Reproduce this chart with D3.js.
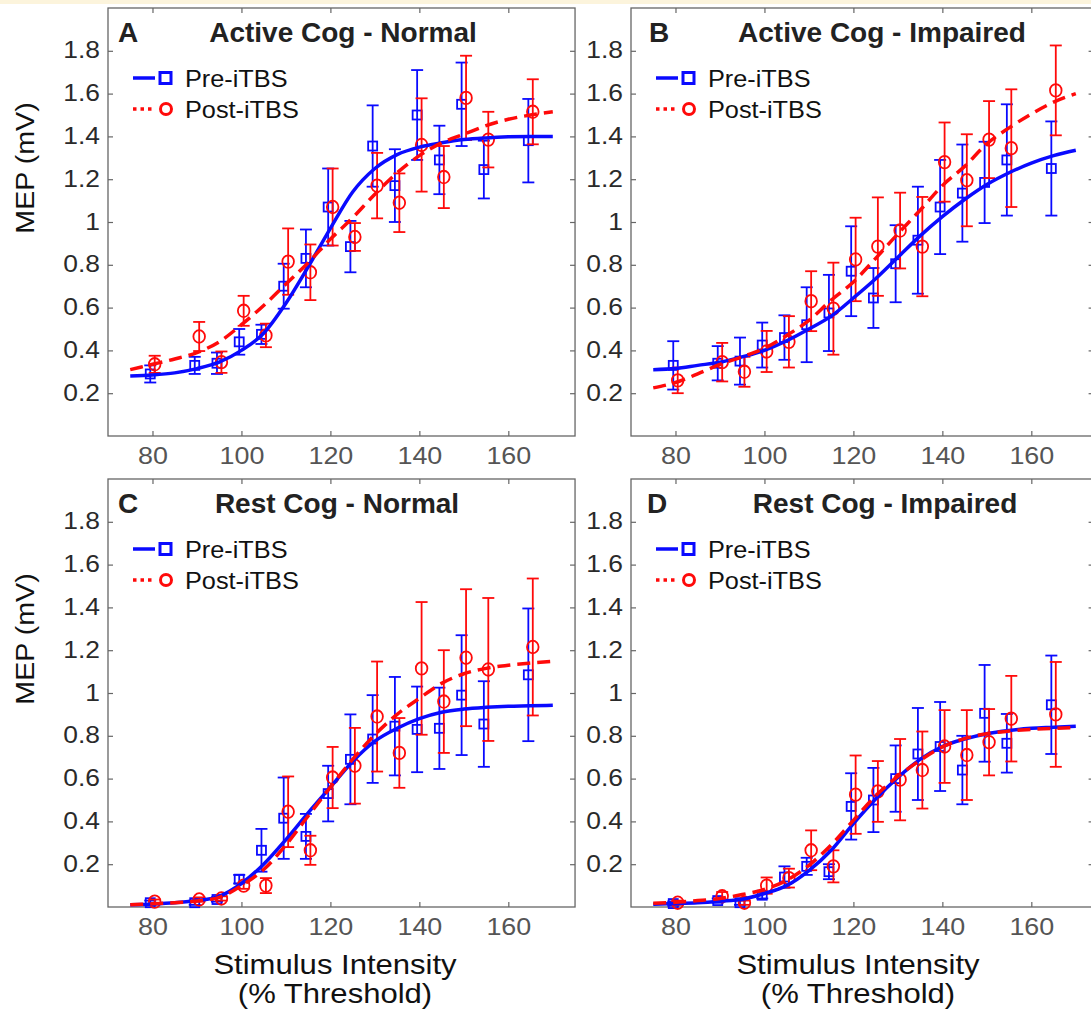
<!DOCTYPE html>
<html>
<head>
<meta charset="utf-8">
<script src="https://cdn.jsdelivr.net/npm/d3@7"></script>
<style>
  body { margin: 0; background: #fff; }
  svg { display: block; }
</style>
</head>
<body>
<div id="plot"></div>
<script>
// stimulus intensities (% threshold) where MEPs were measured
const stimX = [80, 90, 95, 100, 105, 110, 115, 120, 125, 130, 135, 140, 145, 150, 155, 165];
const fitX = [75, 80, 85, 90, 95, 100, 105, 110, 115, 120, 125, 130, 135, 140, 145, 150, 155, 160, 165, 170];

const xTicks = [80, 100, 120, 140, 160];
const yTicks = [0.2, 0.4, 0.6, 0.8, 1.0, 1.2, 1.4, 1.6, 1.8];
const yTickLabels = ["0.2", "0.4", "0.6", "0.8", "1", "1.2", "1.4", "1.6", "1.8"];

const seriesNames = ["Pre-iTBS", "Post-iTBS"];
const panelLetters = ["A", "B", "C", "D"];
const panelTitles = ["Active Cog - Normal", "Active Cog - Impaired", "Rest Cog - Normal", "Rest Cog - Impaired"];

// A - Active Cog, Normal
const preA = [0.29, 0.33, 0.34, 0.44, 0.475, 0.70, 0.83, 1.07, 0.885, 1.355, 1.17, 1.50, 1.29, 1.55, 1.245, 1.38];
const preAErr = [0.04, 0.04, 0.05, 0.06, 0.045, 0.105, 0.135, 0.18, 0.12, 0.19, 0.17, 0.21, 0.16, 0.195, 0.135, 0.195];
const postA = [0.335, 0.465, 0.345, 0.585, 0.47, 0.815, 0.765, 1.07, 0.93, 1.17, 1.09, 1.36, 1.21, 1.58, 1.385, 1.515];
const postAErr = [0.04, 0.068, 0.05, 0.07, 0.055, 0.155, 0.13, 0.18, 0.065, 0.153, 0.137, 0.218, 0.145, 0.197, 0.13, 0.152];
const preAFit = [0.28, 0.285, 0.295, 0.315, 0.345, 0.40, 0.48, 0.62, 0.79, 0.97, 1.14, 1.25, 1.315, 1.35, 1.37, 1.385, 1.393, 1.398, 1.40, 1.40];
const postAFit = [0.31, 0.335, 0.36, 0.39, 0.44, 0.52, 0.61, 0.71, 0.81, 0.92, 1.02, 1.13, 1.23, 1.31, 1.37, 1.41, 1.45, 1.48, 1.50, 1.515];

// B - Active Cog, Impaired
const preB = [0.33, 0.34, 0.35, 0.425, 0.46, 0.52, 0.575, 0.77, 0.645, 0.805, 0.915, 1.07, 1.135, 1.185, 1.29, 1.25];
const preBErr = [0.113, 0.08, 0.11, 0.105, 0.104, 0.175, 0.178, 0.21, 0.14, 0.18, 0.25, 0.22, 0.227, 0.19, 0.26, 0.22];
const postB = [0.26, 0.345, 0.30, 0.395, 0.44, 0.63, 0.595, 0.825, 0.885, 0.96, 0.885, 1.28, 1.195, 1.385, 1.345, 1.615];
const postBErr = [0.06, 0.09, 0.07, 0.096, 0.12, 0.14, 0.215, 0.195, 0.23, 0.177, 0.232, 0.185, 0.215, 0.18, 0.275, 0.21];
const preBFit = [0.31, 0.315, 0.33, 0.345, 0.37, 0.40, 0.445, 0.50, 0.56, 0.645, 0.735, 0.835, 0.935, 1.025, 1.105, 1.175, 1.23, 1.275, 1.31, 1.335];
const postBFit = [0.225, 0.25, 0.29, 0.335, 0.37, 0.41, 0.47, 0.54, 0.635, 0.72, 0.83, 0.945, 1.055, 1.17, 1.26, 1.365, 1.44, 1.505, 1.56, 1.60];

// C - Rest Cog, Normal
const preC = [0.02, 0.02, 0.035, 0.13, 0.265, 0.415, 0.33, 0.53, 0.69, 0.785, 0.845, 0.83, 0.835, 0.99, 0.855, 1.085];
const preCErr = [0.01, 0.01, 0.01, 0.02, 0.1, 0.19, 0.105, 0.13, 0.21, 0.205, 0.23, 0.2, 0.19, 0.28, 0.2, 0.31];
const postC = [0.025, 0.035, 0.04, 0.10, 0.10, 0.445, 0.265, 0.605, 0.66, 0.89, 0.72, 1.115, 0.96, 1.165, 1.11, 1.215];
const postCErr = [0.01, 0.01, 0.01, 0.015, 0.035, 0.165, 0.068, 0.143, 0.177, 0.257, 0.163, 0.31, 0.24, 0.32, 0.334, 0.32];
const preCFit = [0.01, 0.014, 0.02, 0.03, 0.05, 0.11, 0.20, 0.315, 0.44, 0.56, 0.68, 0.775, 0.835, 0.88, 0.91, 0.925, 0.933, 0.938, 0.94, 0.943];
const postCFit = [0.01, 0.015, 0.02, 0.028, 0.045, 0.10, 0.175, 0.29, 0.425, 0.56, 0.69, 0.805, 0.90, 0.975, 1.045, 1.09, 1.115, 1.13, 1.14, 1.148];

// D - Rest Cog, Impaired
const preD = [0.016, 0.03, 0.02, 0.055, 0.14, 0.19, 0.165, 0.47, 0.50, 0.60, 0.715, 0.75, 0.64, 0.905, 0.765, 0.945];
const preDErr = [0.01, 0.01, 0.01, 0.015, 0.05, 0.04, 0.035, 0.155, 0.15, 0.155, 0.215, 0.208, 0.16, 0.226, 0.137, 0.23];
const postD = [0.02, 0.05, 0.02, 0.10, 0.135, 0.265, 0.19, 0.525, 0.54, 0.595, 0.64, 0.75, 0.71, 0.77, 0.88, 0.90];
const postDErr = [0.01, 0.02, 0.01, 0.038, 0.044, 0.093, 0.075, 0.183, 0.142, 0.19, 0.18, 0.17, 0.21, 0.155, 0.2, 0.245];
const preDFit = [0.013, 0.016, 0.02, 0.027, 0.036, 0.063, 0.10, 0.17, 0.265, 0.39, 0.505, 0.605, 0.69, 0.75, 0.785, 0.81, 0.825, 0.835, 0.84, 0.845];
const postDFit = [0.017, 0.022, 0.03, 0.04, 0.058, 0.082, 0.125, 0.195, 0.29, 0.405, 0.52, 0.61, 0.685, 0.748, 0.787, 0.81, 0.822, 0.83, 0.835, 0.838];

const blue = "#0a0aff";
const red = "#ff0a0a";
const font = "'Liberation Sans', Arial, sans-serif";

const W = 1091, H = 1013;
const pxPerUnit = 4.448;
const plotH = 428;

const panels = [
  { left: 108, top: 8, xMax: 175, titleX: 235, letterX: 10, yLabel: true, xLabel: false,
    pre: preA, preErr: preAErr, post: postA, postErr: postAErr, preFit: preAFit, postFit: postAFit },
  { left: 631, top: 8, xMax: 174, titleX: 251, letterX: 18, yLabel: false, xLabel: false,
    pre: preB, preErr: preBErr, post: postB, postErr: postBErr, preFit: preBFit, postFit: postBFit },
  { left: 108, top: 479, xMax: 175, titleX: 229, letterX: 10, yLabel: true, xLabel: true,
    pre: preC, preErr: preCErr, post: postC, postErr: postCErr, preFit: preCFit, postFit: postCFit },
  { left: 631, top: 479, xMax: 174, titleX: 254, letterX: 16, yLabel: false, xLabel: true,
    pre: preD, preErr: preDErr, post: postD, postErr: postDErr, preFit: preDFit, postFit: postDFit }
];

const svg = d3.select("#plot")
  .append("svg")
  .attr("width", W)
  .attr("height", H);

svg.append("rect").attr("width", W).attr("height", H).attr("fill", "#fff");
// thin pale strip along the top of the page
svg.append("rect").attr("width", W).attr("height", 4).attr("fill", "#fcf4dc");

// text that is a little wider than Arial, like the original figure
function addText(g, x, y, str, o) {
  const rot = o.rotate ? ` rotate(${o.rotate})` : "";
  return g.append("text")
    .attr("transform", `translate(${x},${y})${rot} scale(${o.sx || 1},1)`)
    .attr("text-anchor", o.anchor || "start")
    .attr("font-family", font)
    .attr("font-size", o.size)
    .attr("font-weight", o.weight || "normal")
    .attr("fill", o.fill || "#111")
    .text(str);
}

panels.forEach((p, i) => {
  const w = (p.xMax - 70) * pxPerUnit;
  const x = d3.scaleLinear().domain([70, p.xMax]).range([0, w]);
  const y = d3.scaleLinear().domain([0, 2]).range([plotH, 0]);

  const g = svg.append("g").attr("transform", `translate(${p.left},${p.top})`);

  g.append("rect")
    .attr("width", w).attr("height", plotH)
    .attr("fill", "#fff")
    .attr("stroke", "#666").attr("stroke-width", 1.3);

  const styleAxis = (ax) => {
    ax.select(".domain").remove();
    ax.selectAll(".tick line").attr("stroke", "#666").attr("stroke-width", 1.2);
  };

  const gx = g.append("g")
    .attr("transform", `translate(0,${plotH})`)
    .call(d3.axisBottom(x).tickValues(xTicks).tickSizeInner(-5).tickSizeOuter(0).tickPadding(0));
  styleAxis(gx);
  gx.selectAll(".tick text")
    .attr("y", 0).attr("dy", null)
    .attr("transform", "translate(0,28) scale(1.12,1)")
    .attr("font-family", font).attr("font-size", 24).attr("fill", "#555");

  const gt = g.append("g")
    .call(d3.axisTop(x).tickValues(xTicks).tickSizeInner(-5).tickSizeOuter(0).tickFormat(""));
  styleAxis(gt);

  const gy = g.append("g")
    .call(d3.axisLeft(y).tickValues(yTicks).tickSizeInner(-5).tickSizeOuter(0).tickPadding(0)
      .tickFormat((d, k) => yTickLabels[k]));
  styleAxis(gy);
  gy.selectAll(".tick text")
    .attr("x", 0).attr("dy", null)
    .attr("transform", "translate(-8,7) scale(1.1,1)")
    .attr("font-family", font).attr("font-size", 24).attr("fill", "#2a2a2a");

  const gr = g.append("g")
    .attr("transform", `translate(${w},0)`)
    .call(d3.axisRight(y).tickValues(yTicks).tickSizeInner(-5).tickSizeOuter(0).tickFormat(""));
  styleAxis(gr);

  // panel letter and title
  addText(g, p.letterX, 34, panelLetters[i], { size: 28, weight: "bold", fill: "#222" });
  addText(g, p.titleX, 34, panelTitles[i], { size: 28, weight: "bold", anchor: "middle", fill: "#222" });

  const line = d3.line()
    .x(d => x(d[0]))
    .y(d => y(d[1]))
    .curve(d3.curveMonotoneX);

  const series = [
    { name: seriesNames[0], color: blue, mean: p.pre, err: p.preErr, fit: p.preFit, dodge: -0.5, shape: "square" },
    { name: seriesNames[1], color: red, mean: p.post, err: p.postErr, fit: p.postFit, dodge: 0.5, shape: "circle" }
  ];

  // error bars and markers
  series.forEach(s => {
    const pts = stimX.map((sx, k) => ({ x: sx + s.dodge, m: s.mean[k], e: s.err[k] }));
    const eb = g.append("g")
      .attr("stroke", s.color).attr("stroke-width", 1.8).attr("fill", "none");
    pts.forEach(d => {
      const cx = x(d.x);
      eb.append("line").attr("x1", cx).attr("x2", cx).attr("y1", y(d.m - d.e)).attr("y2", y(d.m + d.e));
      eb.append("line").attr("x1", cx - 6).attr("x2", cx + 6).attr("y1", y(d.m + d.e)).attr("y2", y(d.m + d.e));
      eb.append("line").attr("x1", cx - 6).attr("x2", cx + 6).attr("y1", y(d.m - d.e)).attr("y2", y(d.m - d.e));
      if (s.shape === "square") {
        eb.append("rect").attr("x", cx - 4.5).attr("y", y(d.m) - 4.5).attr("width", 9).attr("height", 9);
      } else {
        eb.append("ellipse").attr("cx", cx).attr("cy", y(d.m)).attr("rx", 5.8).attr("ry", 6.3);
      }
    });
  });

  // fitted curves
  g.append("path")
    .datum(fitX.map((fx, k) => [fx, p.preFit[k]]))
    .attr("fill", "none").attr("stroke", blue).attr("stroke-width", 3.5)
    .attr("d", line);
  g.append("path")
    .datum(fitX.map((fx, k) => [fx, p.postFit[k]]))
    .attr("fill", "none").attr("stroke", red).attr("stroke-width", 3.5)
    .attr("stroke-dasharray", "13,7")
    .attr("d", line);

  // legend
  const lg = g.append("g");
  const rows = [70, 101];
  lg.append("line").attr("x1", 25).attr("x2", 47).attr("y1", rows[0]).attr("y2", rows[0])
    .attr("stroke", blue).attr("stroke-width", 3.5);
  lg.append("rect").attr("x", 52).attr("y", rows[0] - 5.5).attr("width", 11).attr("height", 11)
    .attr("fill", "none").attr("stroke", blue).attr("stroke-width", 3);
  lg.append("line").attr("x1", 25).attr("x2", 47).attr("y1", rows[1]).attr("y2", rows[1])
    .attr("stroke", red).attr("stroke-width", 3.5).attr("stroke-dasharray", "3.5,4");
  lg.append("circle").attr("cx", 58).attr("cy", rows[1]).attr("r", 5.5)
    .attr("fill", "none").attr("stroke", red).attr("stroke-width", 3);
  addText(lg, 77, rows[0] + 8.5, series[0].name, { size: 23, sx: 1.1, fill: "#111" });
  addText(lg, 77, rows[1] + 8.5, series[1].name, { size: 23, sx: 1.1, fill: "#111" });

  if (p.yLabel) {
    addText(svg, 34, p.top + 160, "MEP (mV)", { size: 26, sx: 1.1, anchor: "middle", rotate: -90, fill: "#111" });
  }
  if (p.xLabel) {
    const cx = p.left + 227;
    addText(svg, cx, p.top + plotH + 67, "Stimulus Intensity", { size: 27, sx: 1.15, anchor: "middle", fill: "#111" });
    addText(svg, cx, p.top + plotH + 96, "(% Threshold)", { size: 27, sx: 1.15, anchor: "middle", fill: "#111" });
  }
});
</script>
</body>
</html>
